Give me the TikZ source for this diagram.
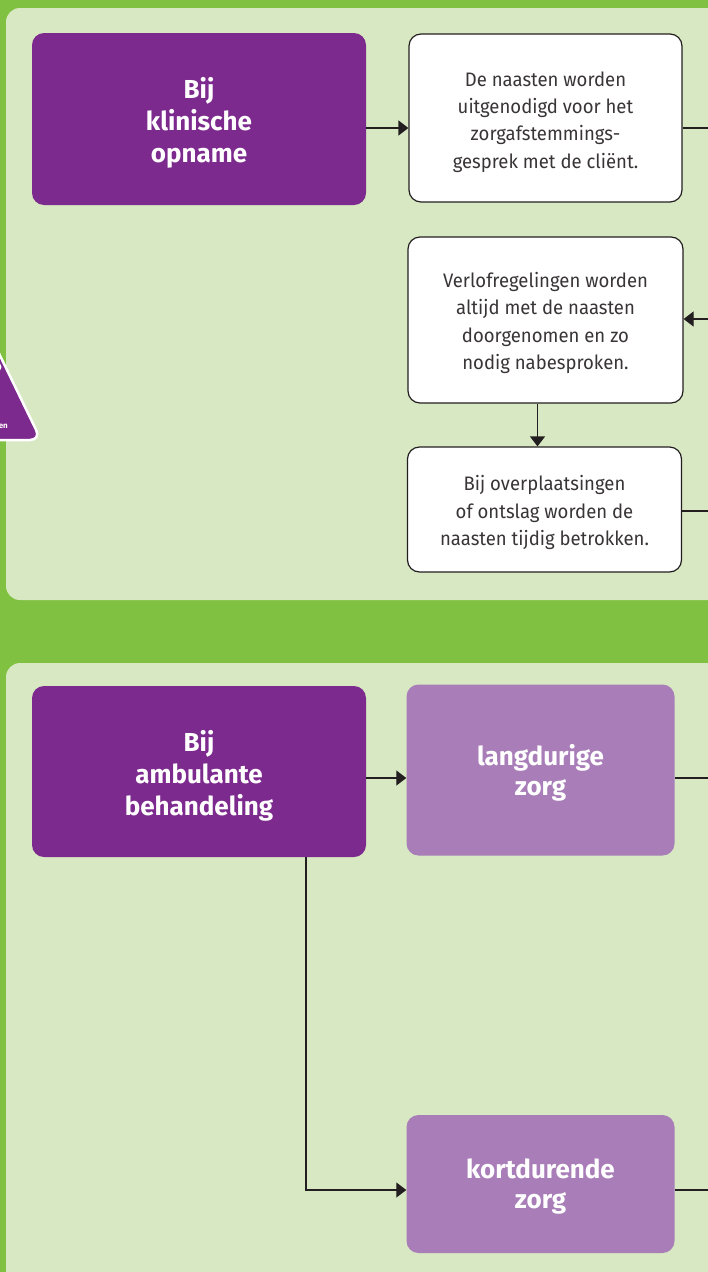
\documentclass[tikz,border=0pt]{standalone}
\usepackage{fontspec}
\setmainfont{Fira Sans}
\newfontfamily\notefont[FakeStretch=0.95]{Fira Sans}
\usetikzlibrary{arrows.meta}
\definecolor{leaf}{HTML}{80C142}
\definecolor{panel}{HTML}{D8E8C3}
\definecolor{plum}{HTML}{7D2A8E}
\definecolor{lilac}{HTML}{A87DB8}
\definecolor{ink}{HTML}{231F20}
\begin{document}
\begin{tikzpicture}[x=1pt,y=-1pt,
  headbox/.style={rectangle, rounded corners=12pt, fill=plum,
    minimum width=334pt, minimum height=172pt, inner sep=0pt},
  subbox/.style={rectangle, rounded corners=12pt, fill=lilac,
    minimum width=268pt, inner sep=0pt},
  notebox/.style={rectangle, rounded corners=12pt, draw=ink, line width=1.2pt,
    fill=white, inner sep=0pt},
  headtext/.style={text=white, font=\bfseries\fontsize{26}{32}\selectfont,
    align=center, inner sep=0pt},
  subtext/.style={headtext, font=\bfseries\fontsize{26}{30}\selectfont},
  notetext/.style={text=ink!90, font=\notefont\fontsize{19.5}{27.3}\selectfont,
    align=center, inner sep=0pt},
  conn/.style={draw=ink, line width=1.2pt},
  arr/.style={conn, -{Triangle[length=10pt,width=15pt]}}]
\useasboundingbox (0,0) rectangle (708,1272);

% background and panels
\fill[leaf] (0,0) rectangle (708,1272);
\fill[panel, rounded corners=14pt] (6,8) rectangle (740,600);
\fill[panel, rounded corners=14pt] (6,663) rectangle (740,1295);

% marker at the left edge
\filldraw[fill=plum, draw=white, line width=2.5pt, rounded corners=11pt]
  (-60,232) -- (41,440) -- (-150,440) -- cycle;
\fill[white] (-3,367) circle (4.5);
\node[anchor=base east, text=white, inner sep=0pt,
  font=\bfseries\fontsize{8}{8}\selectfont] (mk) at (8,428) {en};

% outgoing / incoming ends at the right edge
\coordinate (e1) at (708,128);
\coordinate (e2) at (708,319);
\coordinate (e3) at (708,511);
\coordinate (e4) at (708,778);
\coordinate (e5) at (708,1190);

% clinical admission
\node[headbox] (p1) at (199,119) {};
\node[headtext] (p1t) at ([yshift=-4pt]p1.center) {Bij\\klinische\\opname};
\node[notebox, minimum width=273pt, minimum height=168pt] (w1) at (545.5,118) {};
\node[notetext] (w1t) at ([yshift=-4pt]w1.center)
  {De naasten worden\\uitgenodigd voor het\\zorgafstemmings-\\gesprek met de cliënt.};
\node[notebox, minimum width=275pt, minimum height=166pt] (w2) at (545.5,320) {};
\node[notetext] (w2t) at ([yshift=-3pt]w2.center)
  {Verlofregelingen worden\\altijd met de naasten\\doorgenomen en zo\\nodig nabesproken.};
\node[notebox, minimum width=274pt, minimum height=125pt] (w3) at (544.5,509.5) {};
\node[notetext] (w3t) at ([yshift=-3pt]w3.center)
  {Bij overplaatsingen\\of ontslag worden de\\naasten tijdig betrokken.};

\draw[arr] (p1.east |- e1) -- (w1.west |- e1);
\draw[conn] (w1.east |- e1) -- (e1);
\draw[arr] (e2) -- (w2.east |- e2);
\draw[arr] ([xshift=-8pt]w2.south) -- ([xshift=-8pt]w2.south |- w3.north);
\draw[conn] (w3.east |- e3) -- (e3);

% outpatient treatment
\node[headbox, minimum height=171pt] (p2) at (199,771.5) {};
\node[headtext] (p2t) at ([yshift=-4pt]p2.center) {Bij\\ambulante\\behandeling};
\node[subbox, minimum height=171pt] (l1) at (540.5,770) {};
\node[subtext] (l1t) at ([yshift=-3pt]l1.center) {langdurige\\zorg};
\node[subbox, minimum height=138pt] (k1) at (540.5,1184) {};
\node[subtext] (k1t) at ([yshift=-3pt]k1.center) {kortdurende\\zorg};

\draw[arr] (p2.east |- e4) -- (l1.west |- e4);
\draw[conn] (l1.east |- e4) -- (e4);
\draw[arr] ([xshift=107pt]p2.south) |- (k1.west |- e5);
\draw[conn] (k1.east |- e5) -- (e5);
\end{tikzpicture}
\end{document}
